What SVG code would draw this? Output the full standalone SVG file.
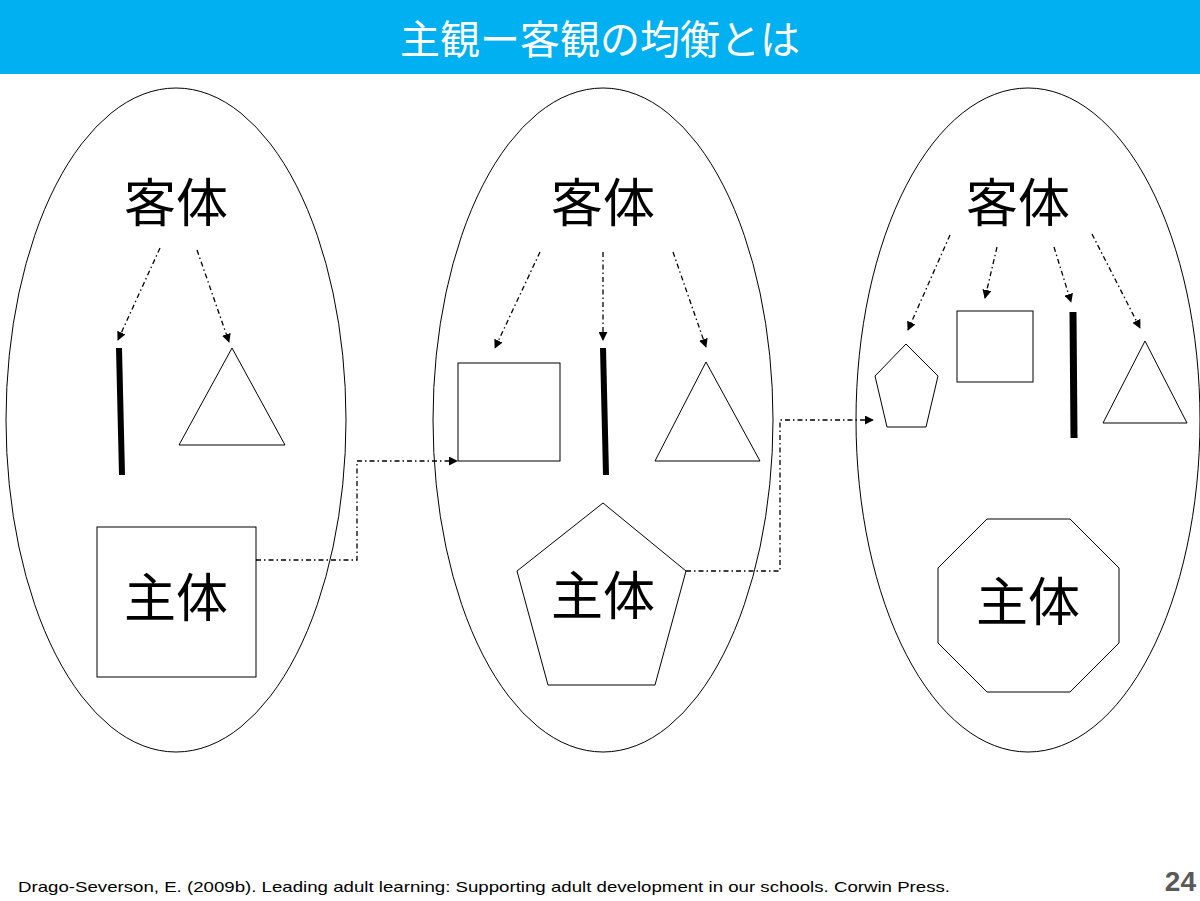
<svg xmlns="http://www.w3.org/2000/svg" width="1200" height="901" viewBox="0 0 1200 901">
<style>
.o{fill:none;stroke:#000;stroke-width:1}
.s{fill:#fff;stroke:#000;stroke-width:1}
.b{stroke:#000;stroke-width:6}
.a{fill:none;stroke:#000;stroke-width:1.3;stroke-dasharray:5 3 1.5 3;marker-end:url(#m)}
.t{font-family:"Noto Sans CJK JP",sans-serif;font-size:52px;text-anchor:middle;fill:#000}
</style>
<defs><marker id="m" viewBox="0 0 10 10" refX="9" refY="5" markerWidth="9" markerHeight="9" markerUnits="userSpaceOnUse" orient="auto"><path d="M0 0L10 5L0 10z"/></marker></defs>
<rect width="1200" height="901" fill="#fff"/>
<rect width="1200" height="74" fill="#00B0F0"/>
<text x="600" y="54" font-family="'Noto Sans CJK JP',sans-serif" font-size="40" fill="#fff" text-anchor="middle">主観ー客観の均衡とは</text>
<g id="stage1">
<ellipse class="o" cx="176" cy="420" rx="170" ry="332"/>
<text class="t" x="176" y="222">客体</text>
<line class="b" x1="119" y1="348" x2="122" y2="475"/>
<polygon class="s" points="232,348 179,445 285,445"/>
<rect class="s" x="97" y="527" width="159" height="150"/>
<text class="t" x="176" y="617">主体</text>
</g>
<g id="stage2">
<ellipse class="o" cx="603" cy="420" rx="170" ry="332"/>
<text class="t" x="603" y="222">客体</text>
<rect class="s" x="458" y="363" width="102" height="98"/>
<line class="b" x1="603" y1="348" x2="606" y2="475"/>
<polygon class="s" points="706,362 655,461 760,461"/>
<polygon class="s" points="603,503 686,571 655,685 548,685 517,571"/>
<text class="t" x="603" y="615">主体</text>
</g>
<g id="stage3">
<ellipse class="o" cx="1028" cy="420" rx="172" ry="332"/>
<text class="t" x="1018" y="222">客体</text>
<polygon class="s" points="906,344 938,376 926,427 887,427 875,376"/>
<rect class="s" x="957" y="311" width="76" height="71"/>
<line x1="1073" y1="312" x2="1074" y2="438" stroke="#000" stroke-width="7"/>
<polygon class="s" points="1145,341 1103,423 1187,423"/>
<polygon class="s" points="987,519 1070,519 1119,568 1119,643 1070,692 987,692 938,643 938,568"/>
<text class="t" x="1028" y="621">主体</text>
</g>
<g id="connectors">
<path class="a" d="M160 248L118 340"/>
<path class="a" d="M197 250L229 342"/>
<path class="a" d="M540 252L495 348"/>
<path class="a" d="M603 252L603 340"/>
<path class="a" d="M673 252L706 347"/>
<path class="a" d="M950 235L908 330"/>
<path class="a" d="M997 247L985 298"/>
<path class="a" d="M1054 247L1071 302"/>
<path class="a" d="M1092 234L1140 328"/>
<path class="a" d="M256 560H357V461H457"/>
<path class="a" d="M686 571H780V420H873"/>
</g>
<text x="18" y="892" font-family="'Liberation Sans',sans-serif" font-size="15" fill="#000" textLength="932" lengthAdjust="spacingAndGlyphs">Drago-Severson, E. (2009b). Leading adult learning: Supporting adult development in our schools. Corwin Press.</text>
<text x="1196" y="891" font-family="'Liberation Sans',sans-serif" font-size="28" font-weight="bold" fill="#595959" text-anchor="end">24</text>
</svg>
